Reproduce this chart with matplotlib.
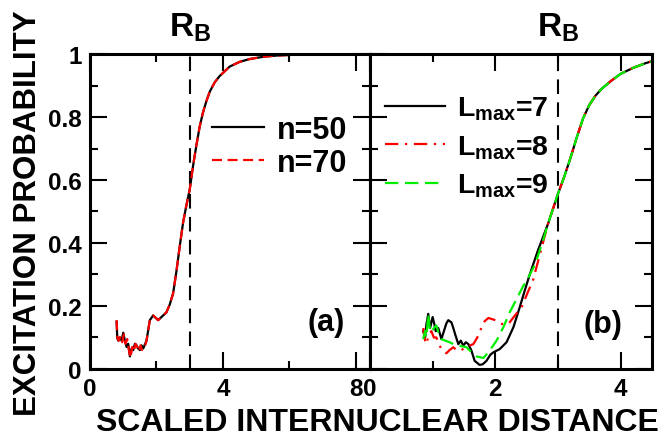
import matplotlib
matplotlib.use("Agg")
import matplotlib.pyplot as plt
import matplotlib.transforms as mtransforms
from matplotlib.ticker import MultipleLocator, FixedLocator, FixedFormatter

plt.rcParams['font.family'] = ['Liberation Sans', 'DejaVu Sans']
plt.rcParams['font.weight'] = 'bold'
plt.rcParams['mathtext.fontset'] = 'custom'
plt.rcParams['mathtext.rm'] = 'Liberation Sans:bold'
plt.rcParams['mathtext.it'] = 'Liberation Sans:bold'
plt.rcParams['mathtext.bf'] = 'Liberation Sans:bold'

# ---- panel (a): n = 50 / n = 70 ----
x_n50 = [0.80, 0.82, 0.85, 0.90, 0.95, 1.00, 1.05, 1.10, 1.15, 1.20, 1.25, 1.30,
         1.35, 1.40, 1.45, 1.50, 1.55, 1.60, 1.70, 1.80, 1.90, 2.00, 2.05, 2.15,
         2.30, 2.40, 2.50, 2.60, 2.70, 2.80, 2.90, 3.00, 3.10, 3.20, 3.30, 3.40,
         3.50, 3.60, 3.75, 3.90, 4.20, 4.50, 4.80, 5.20, 5.60, 6.20, 7.00, 7.60]
p_n50 = [0.150, 0.100, 0.090, 0.100, 0.090, 0.115, 0.090, 0.070, 0.080, 0.040, 0.065, 0.060,
         0.080, 0.075, 0.065, 0.060, 0.075, 0.065, 0.090, 0.155, 0.170, 0.160, 0.155, 0.165,
         0.180, 0.205, 0.240, 0.310, 0.390, 0.465, 0.520, 0.570, 0.645, 0.710, 0.770, 0.815,
         0.850, 0.880, 0.910, 0.930, 0.960, 0.975, 0.984, 0.991, 0.995, 0.998, 1.000, 1.000]

x_n70 = [0.80, 0.83, 0.87, 0.92, 0.97, 1.02, 1.07, 1.12, 1.17, 1.22, 1.27, 1.32,
         1.37, 1.42, 1.47, 1.52, 1.57, 1.65, 1.70, 1.80, 1.90, 2.00, 2.05, 2.15,
         2.30, 2.40, 2.50, 2.60, 2.70, 2.80, 2.90, 3.00, 3.10, 3.20, 3.30, 3.40,
         3.50, 3.60, 3.75, 3.90, 4.20, 4.50, 4.80, 5.20, 5.60, 6.20, 7.00, 7.60]
p_n70 = [0.155, 0.095, 0.090, 0.105, 0.085, 0.110, 0.080, 0.095, 0.060, 0.035, 0.070, 0.055,
         0.080, 0.070, 0.055, 0.075, 0.060, 0.070, 0.090, 0.155, 0.170, 0.160, 0.155, 0.165,
         0.180, 0.205, 0.240, 0.310, 0.390, 0.465, 0.520, 0.570, 0.645, 0.710, 0.770, 0.815,
         0.850, 0.880, 0.910, 0.930, 0.960, 0.975, 0.984, 0.991, 0.995, 0.998, 1.000, 1.000]

# ---- panel (b): L_max = 7 / 8 / 9 ----
x_l7 = [0.85, 0.88, 0.90, 0.93, 0.96, 1.00, 1.03, 1.05, 1.09, 1.14, 1.18, 1.22,
        1.25, 1.30, 1.33, 1.36, 1.41, 1.45, 1.49, 1.53, 1.57, 1.62, 1.67, 1.75,
        1.80, 1.86, 1.92, 1.97, 2.07, 2.18, 2.29, 2.39, 2.47, 2.55, 2.68, 2.84,
        3.00, 3.10, 3.20, 3.30, 3.40, 3.50, 3.60, 3.70, 3.85, 4.00, 4.20, 4.40, 4.50]
p_l7 = [0.120, 0.100, 0.140, 0.175, 0.130, 0.165, 0.140, 0.120, 0.130, 0.095, 0.120, 0.145,
        0.155, 0.148, 0.130, 0.110, 0.079, 0.090, 0.074, 0.085, 0.079, 0.058, 0.026, 0.013,
        0.015, 0.026, 0.045, 0.053, 0.063, 0.085, 0.133, 0.196, 0.249, 0.300, 0.376, 0.460,
        0.556, 0.610, 0.670, 0.735, 0.795, 0.838, 0.868, 0.890, 0.915, 0.937, 0.956, 0.971, 0.977]

x_l8 = [0.85, 0.88, 0.90, 0.94, 0.98, 1.02, 1.06, 1.10, 1.14, 1.18, 1.22, 1.27,
        1.33, 1.38, 1.44, 1.50, 1.54, 1.60, 1.65, 1.73, 1.81, 1.89, 2.00, 2.10,
        2.21, 2.31, 2.42, 2.53, 2.60, 2.70, 2.84,
        3.00, 3.10, 3.20, 3.30, 3.40, 3.50, 3.60, 3.70, 3.85, 4.00, 4.20, 4.40, 4.50]
p_l8 = [0.130, 0.090, 0.079, 0.110, 0.120, 0.100, 0.100, 0.080, 0.063, 0.055, 0.050, 0.060,
        0.069, 0.060, 0.058, 0.065, 0.069, 0.075, 0.079, 0.106, 0.148, 0.162, 0.155, 0.143,
        0.143, 0.169, 0.196, 0.249, 0.280, 0.355, 0.460,
        0.556, 0.610, 0.670, 0.735, 0.795, 0.838, 0.868, 0.890, 0.915, 0.937, 0.956, 0.971, 0.977]

x_l9 = [0.85, 0.88, 0.90, 0.93, 0.96, 0.98, 1.02, 1.06, 1.10, 1.14, 1.20, 1.27,
        1.33, 1.40, 1.47, 1.54, 1.62, 1.70, 1.81, 1.91, 2.02, 2.13, 2.23, 2.34,
        2.45, 2.50, 2.63, 2.75, 2.84,
        3.00, 3.10, 3.20, 3.30, 3.40, 3.50, 3.60, 3.70, 3.85, 4.00, 4.20, 4.40, 4.50]
p_l9 = [0.095, 0.120, 0.100, 0.175, 0.120, 0.116, 0.130, 0.138, 0.110, 0.095, 0.090, 0.085,
        0.079, 0.075, 0.072, 0.069, 0.053, 0.040, 0.035, 0.058, 0.090, 0.133, 0.180, 0.222,
        0.265, 0.280, 0.330, 0.400, 0.460,
        0.556, 0.610, 0.670, 0.735, 0.795, 0.838, 0.868, 0.890, 0.915, 0.937, 0.956, 0.971, 0.977]

r_b = 3.0
y_ticks = [0, 0.2, 0.4, 0.6, 0.8, 1.0]
y_ticklabels = ["0", "0.2", "0.4", "0.6", "0.8", "1"]
labels_a = ["n=50", "n=70"]
labels_b = [r"$\mathrm{L_{max}}$=7", r"$\mathrm{L_{max}}$=8", r"$\mathrm{L_{max}}$=9"]

LW = 1.6
fig = plt.figure(figsize=(6.69, 4.39), dpi=100)
ax1 = fig.add_axes([0.1345, 0.1572, 0.4185, 0.7175])
ax2 = fig.add_axes([0.553, 0.1572, 0.4215, 0.7175])

for ax in (ax1, ax2):
    ax.set_ylim(0, 1)
    ax.yaxis.set_major_locator(FixedLocator(y_ticks))
    ax.yaxis.set_major_formatter(FixedFormatter(y_ticklabels))
    ax.yaxis.set_minor_locator(MultipleLocator(0.1))
    ax.tick_params(which='both', direction='in', top=True, right=True, width=1.5,
                   labelsize=17.5)
    ax.tick_params(which='major', length=12, pad=6)
    ax.tick_params(which='minor', length=5.5)
    for s in ax.spines.values():
        s.set_linewidth(2.2)
    ax.axvline(r_b, color='black', lw=1.5, ls=(0, (7, 4)), zorder=1)
    trans = mtransforms.blended_transform_factory(ax.transData, ax.transAxes)
    ax.text(r_b, 1.057, r"$\mathrm{R_B}$", transform=trans, ha='center',
            va='baseline', fontsize=24)

# panel (a)
ax1.set_xlim(0, 8.42)
ax1.xaxis.set_major_locator(MultipleLocator(4))
ax1.xaxis.set_minor_locator(MultipleLocator(2))
ax1.plot(x_n50, p_n50, color='black', lw=LW, label=labels_a[0])
ax1.plot(x_n70, p_n70, color='red', lw=LW, ls=(0, (4.5, 2.5)), label=labels_a[1])
ax1.legend(loc='center left', bbox_to_anchor=(0.435, 0.707), frameon=False,
           fontsize=22, handlelength=1.7, handletextpad=0.42, labelspacing=0.1,
           borderpad=0, borderaxespad=0)
ax1.text(7.1, 0.149, "(a)", ha='center', va='center', fontsize=22)

# panel (b)
ax2.set_xlim(0, 4.5)
ax2.xaxis.set_major_locator(MultipleLocator(2))
ax2.xaxis.set_minor_locator(MultipleLocator(1))
ax2.tick_params(labelleft=False)
ax2.plot(x_l7, p_l7, color='black', lw=LW, label=labels_b[0])
ax2.plot(x_l8, p_l8, color='red', lw=LW, ls=(0, (6, 3, 1, 3)), label=labels_b[1])
ax2.plot(x_l9, p_l9, color='#00ee00', lw=LW, ls=(0, (6, 3)), label=labels_b[2])
ax2.legend(loc='center left', bbox_to_anchor=(0.053, 0.705), frameon=False,
           fontsize=20.5, handlelength=2.1, handletextpad=0.42, labelspacing=0.38,
           borderpad=0, borderaxespad=0)
ax2.text(3.72, 0.143, "(b)", ha='center', va='center', fontsize=22)

fig.text(0.564, 0.036, "SCALED INTERNUCLEAR DISTANCE", ha='center', va='center',
         fontsize=23)
fig.text(0.0426, 0.515, "EXCITATION PROBABILITY", ha='center', va='center',
         rotation=90, fontsize=22.5)

fig.savefig("out.png", dpi=100)
